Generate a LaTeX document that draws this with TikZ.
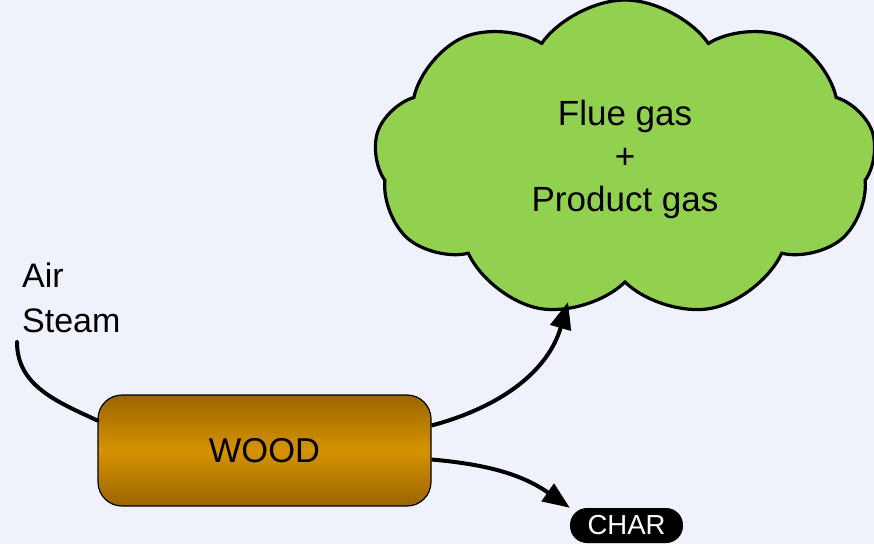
\documentclass[tikz,border=0pt]{standalone}
\usepackage{fontspec}
\setmainfont{Liberation Sans}
\usepackage{tikz}
\usetikzlibrary{arrows.meta,calc,positioning,shapes.symbols}
\definecolor{PaperLilac}{HTML}{EFF2FA}
\definecolor{Ink}{HTML}{000000}
\definecolor{CloudGreen}{HTML}{92D050}
\definecolor{WoodDark}{HTML}{9A6500}
\definecolor{WoodLight}{HTML}{D69200}
\tikzset{
  woodbox/.style={
    draw=Ink,
    line width=1.2pt,
    rounded corners=24pt,
    top color=WoodDark,
    bottom color=WoodDark,
    middle color=WoodLight,
    minimum width=333pt,
    minimum height=111pt,
    font=\fontsize{34.5}{42}\selectfont
  },
  gascloud/.style={
    cloud,
    cloud puffs=9,
    cloud puff arc=110,
    draw=Ink,
    line width=3.2pt,
    fill=CloudGreen,
    minimum width=502pt,
    minimum height=318pt,
    align=center,
    font=\fontsize{35}{43}\selectfont
  },
  charpill/.style={
    fill=Ink,
    rounded corners=17pt,
    minimum width=113pt,
    minimum height=35pt,
    inner sep=0pt,
    text=white,
    font=\fontsize{27.5}{30}\selectfont
  },
  flow/.style={
    line width=4pt,
    draw=Ink,
    -{Triangle[length=27pt,width=21pt]}
  }
}

\begin{document}
\begin{tikzpicture}[x=1pt,y=1pt]
  \fill[PaperLilac] (0,0) rectangle (874,544);
  \useasboundingbox (0,0) rectangle (874,544);

  \node[woodbox] (wood) at (264.5,93.5) {WOOD};
  \node[gascloud] (gas) at (625,385) {Flue gas\\+\\Product gas};
  \node[charpill] (char) at (626.5,18.5) {CHAR};
  \node[anchor=west, align=left, inner sep=0pt,
        font=\fontsize{34}{45}\selectfont] (feed) at (22,246) {Air\\Steam};
  \coordinate (feedin) at (17,202);

  % feed into the gasifier
  \draw[line width=4pt, line cap=round] (feedin) to[out=-90, in=155] ([yshift=30pt]wood.west);
  % products
  \draw[flow] ([yshift=25pt]wood.east) to[out=15, in=-106] (568,242);
  \draw[flow] ([yshift=-9pt]wood.east) to[out=-5, in=145] (char.north west);
\end{tikzpicture}
\end{document}
